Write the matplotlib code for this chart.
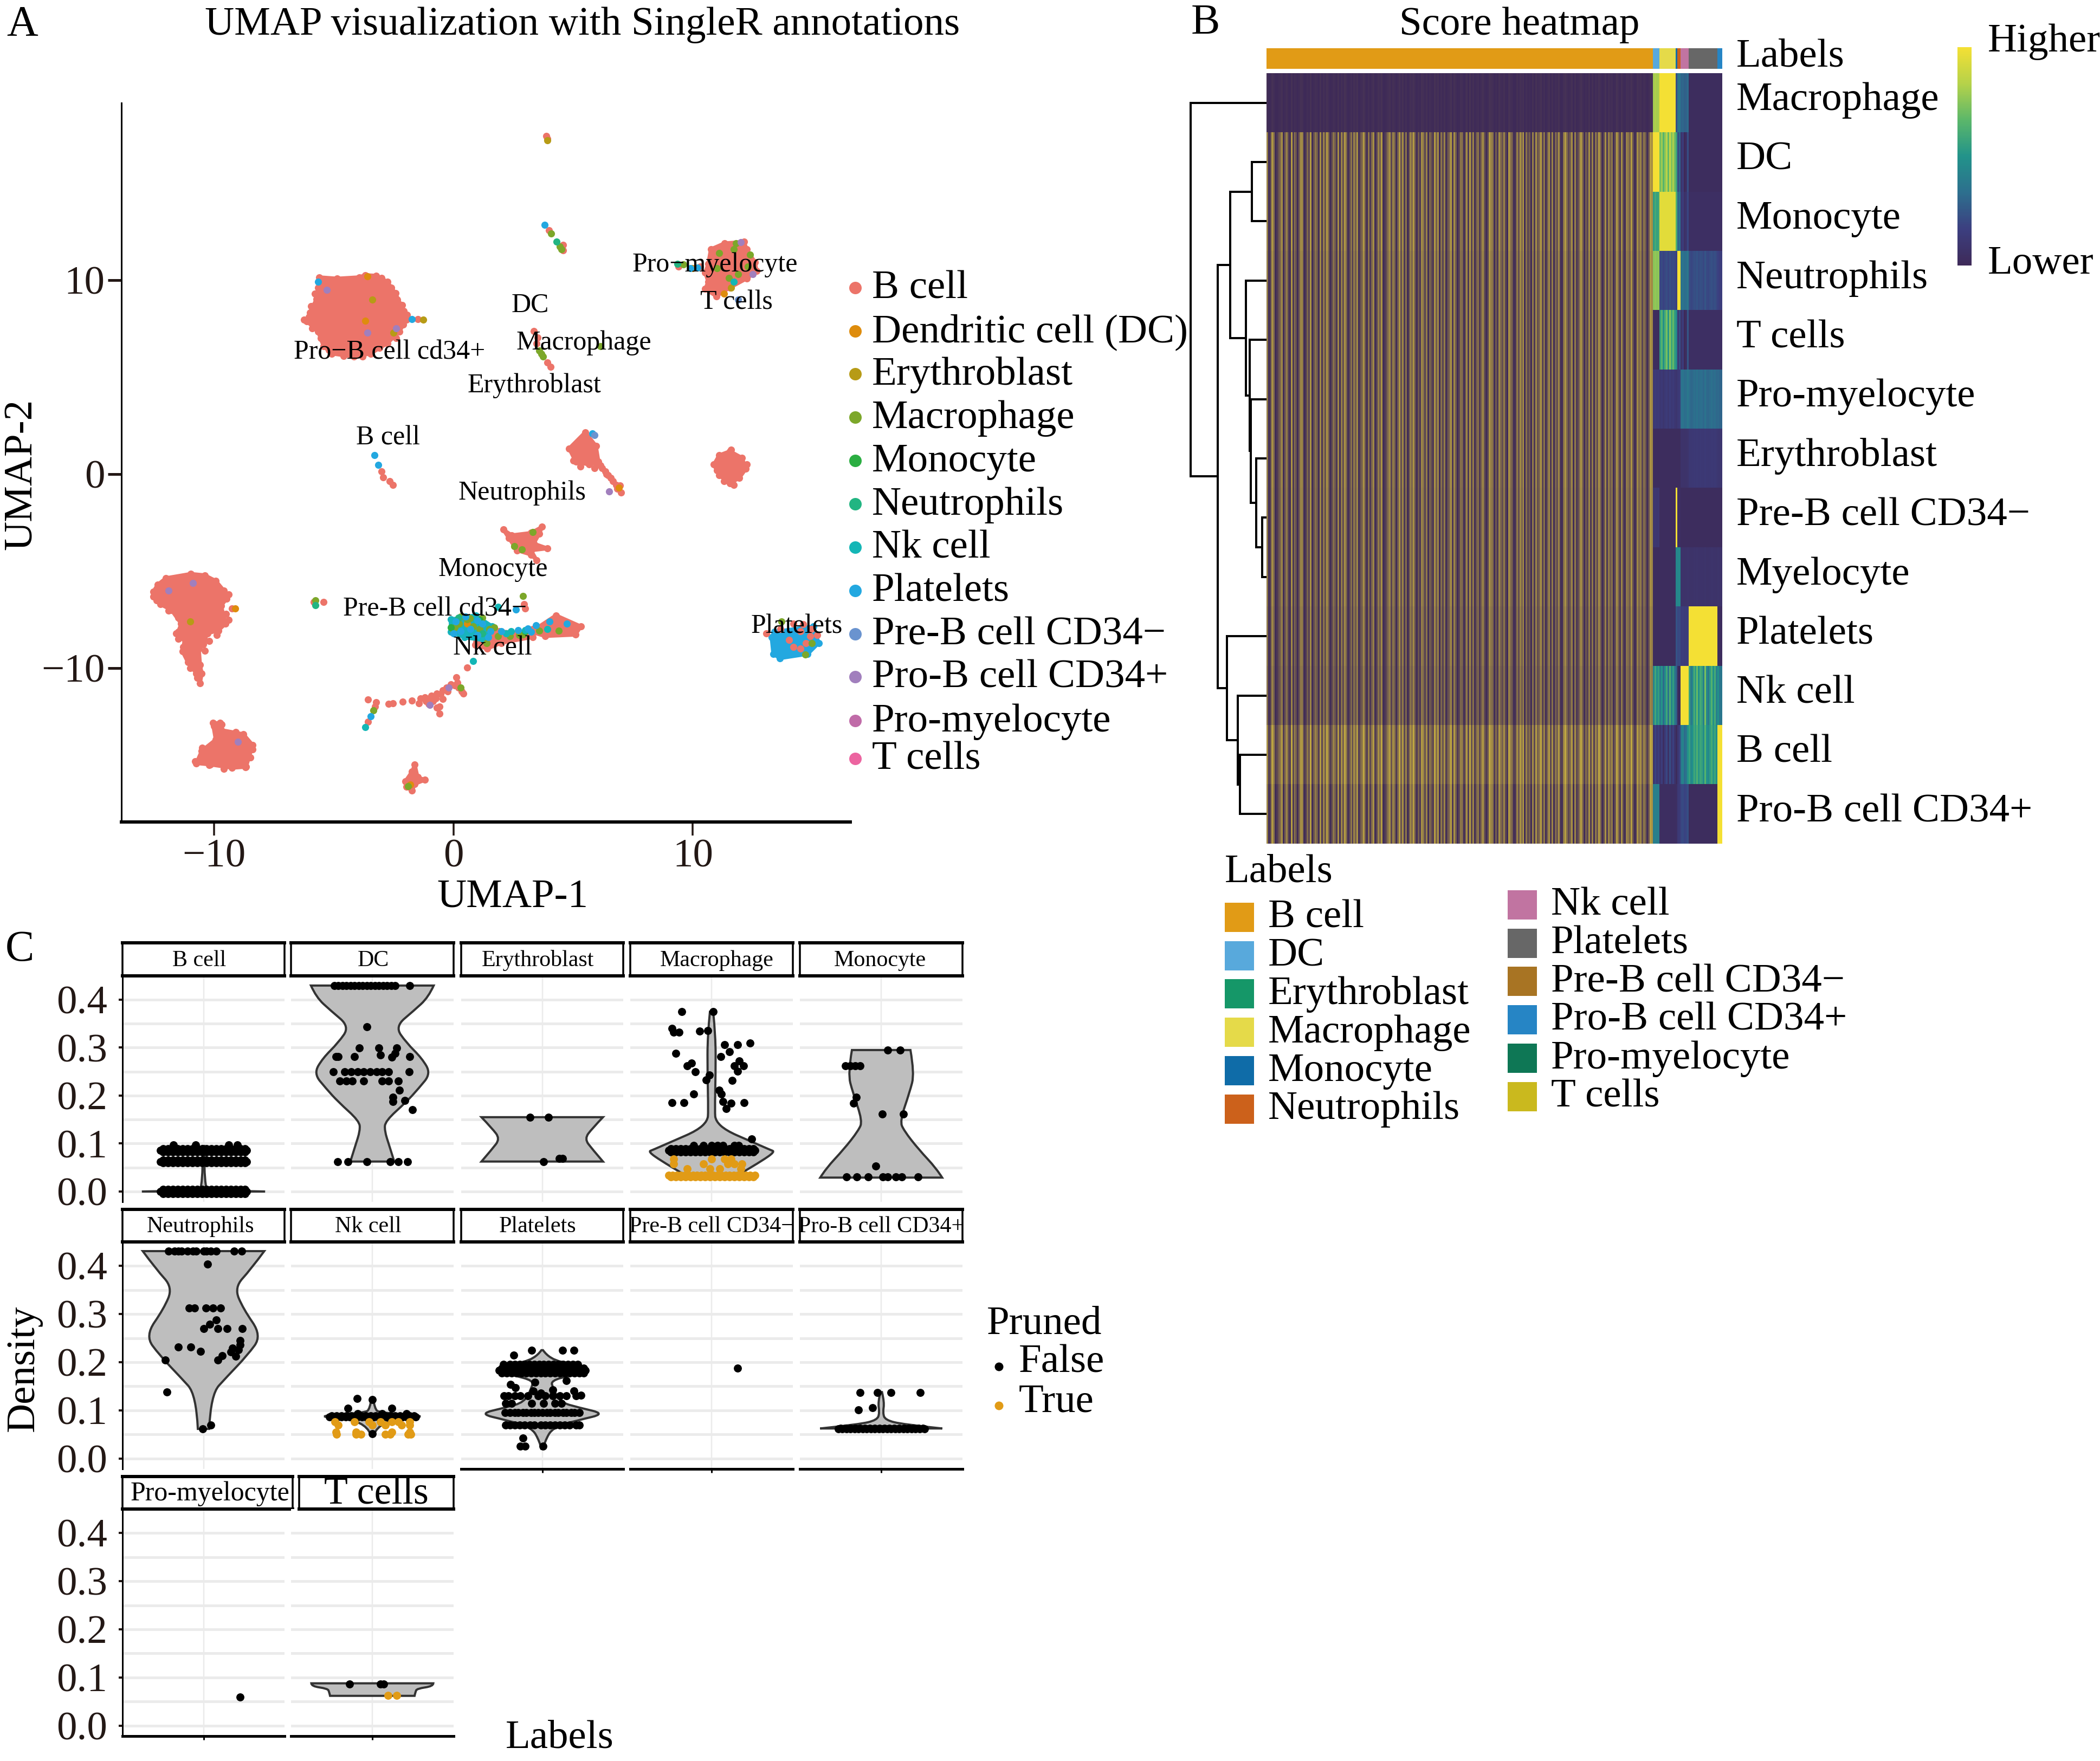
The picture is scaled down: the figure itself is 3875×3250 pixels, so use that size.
# -*- coding: utf-8 -*-
import numpy as np
import matplotlib
matplotlib.use("Agg")
import matplotlib.pyplot as plt
from matplotlib.colors import LinearSegmentedColormap, to_rgb, Normalize
from matplotlib.cm import ScalarMappable
from matplotlib.path import Path
from matplotlib.patches import PathPatch

plt.rcParams['font.family'] = ['Liberation Serif', 'DejaVu Serif']

W, H = 3875, 3250
DPI = 100
PT = 72.0 / DPI  # one pixel in points

# ---------- panel A data ----------
umap_labels = ['B cell', 'Dendritic cell (DC)', 'Erythroblast', 'Macrophage', 'Monocyte',
               'Neutrophils', 'Nk cell', 'Platelets', 'Pre-B cell CD34\u2212', 'Pro-B cell CD34+',
               'Pro-myelocyte', 'T cells']
umap_colors = ['#EC7469', '#DE8C0D', '#B79B16', '#7CA72A', '#2BAE42', '#22B582',
               '#14B6B6', '#23A8E0', '#6A93CF', '#A17FBD', '#C06BA8', '#EC64A0']

# outlines of the dense clusters (too many cells to read one by one)
hull_prob = [(-5.62, 10.15), (-4.86, 10.08), (-3.93, 10.15), (-3.70, 10.26), (-3.24, 10.23), (-2.77, 9.92),
             (-2.43, 9.32), (-2.08, 8.41), (-1.97, 7.95), (-2.27, 7.34), (-2.77, 6.74), (-3.47, 6.21),
             (-4.16, 6.05), (-5.09, 6.21), (-5.43, 6.59), (-5.66, 7.34), (-6.13, 7.88), (-6.01, 8.33),
             (-5.73, 9.01), (-5.66, 9.62)]
hull_tcell = [(10.64, 9.92), (10.52, 9.54), (10.98, 9.17), (11.56, 9.62), (12.25, 10.08), (12.67, 10.46),
              (12.60, 10.91), (12.25, 11.59), (12.14, 11.97), (11.33, 11.90), (10.75, 11.59), (10.64, 10.83),
              (10.52, 10.38)]
hull_mid = [(5.50, 2.15), (5.95, 1.46), (6.06, 0.63), (5.67, 0.49), (5.11, 0.63), (4.83, 1.32)]
hull_right = [(11.55, 1.18), (12.05, 0.84), (12.22, 0.28), (11.94, -0.20), (11.55, -0.48), (11.10, -0.06),
              (10.88, 0.49), (11.10, 0.97)]
hull_mono = [(2.08, -2.86), (2.43, -3.15), (3.24, -3.03), (3.70, -2.72), (3.58, -3.08), (3.35, -3.58),
             (3.93, -3.83), (3.24, -3.93), (3.47, -4.43), (3.24, -4.15), (2.66, -3.93), (2.54, -3.72),
             (2.31, -3.29)]
hull_left = [(-10.98, -5.14), (-10.40, -5.21), (-9.94, -5.50), (-9.60, -6.0), (-9.48, -6.42), (-9.71, -6.78),
             (-9.53, -7.71), (-9.83, -8.06), (-10.29, -8.21), (-10.45, -8.77), (-10.64, -8.99), (-10.59, -9.84),
             (-10.52, -10.27), (-10.59, -10.77), (-10.75, -10.27), (-11.10, -9.70), (-11.33, -9.13), (-11.21, -8.70),
             (-11.51, -8.13), (-11.38, -7.71), (-11.79, -7.0), (-12.25, -6.71), (-12.55, -6.07), (-12.37, -5.71),
             (-12.02, -5.36)]
hull_lowleft = [(-10.06, -12.83), (-9.76, -12.83), (-9.71, -13.19), (-8.79, -13.40), (-8.39, -13.97),
                (-8.67, -15.09), (-9.25, -15.14), (-10.17, -14.97), (-10.75, -14.90), (-10.52, -14.26),
                (-9.94, -13.69)]
hull_bottom = [(-1.62, -14.97), (-1.50, -15.62), (-1.20, -15.76), (-1.62, -15.97), (-1.73, -16.32),
               (-1.97, -16.12), (-2.01, -15.83), (-1.73, -15.33)]
hull_streak = [(3.24, -8.13), (4.28, -7.28), (5.32, -7.85), (5.09, -8.28), (3.82, -8.35)]
hull_link = [(0.9, -8.2), (1.9, -8.1), (2.9, -8.2), (3.3, -8.0), (3.3, -8.4), (2.0, -8.7), (1.4, -9.0), (0.9, -8.8)]
hull_core = [(-0.12, -7.49), (0.92, -7.28), (1.62, -7.85), (1.27, -8.56), (0.46, -8.42), (-0.12, -8.13)]
hull_plate = [(13.41, -8.13), (15.03, -7.85), (15.26, -8.70), (14.80, -9.27), (13.64, -9.49), (13.36, -9.27),
              (13.29, -8.42)]

# single cells, by label
dots_bcell = [(-1.50, 7.98), (3.88, 17.43), (3.93, 17.28), (3.98, 12.58), (4.58, 11.52), (4.58, 11.82),
              (3.35, 7.37), (3.47, 6.74), (3.51, 7.04), (3.93, 5.75), (4.05, 5.52), (-3.0, 0.13), (-2.94, -0.16),
              (-2.66, -0.37), (-2.54, -0.56), (6.06, 0.5), (6.34, 0.15), (6.56, -0.2), (6.79, -0.55), (7.0, -0.96),
              (6.2, 0.3), (6.45, -0.05), (-9.25, -6.92), (-5.85, -6.6), (-5.43, -6.6), (2.94, -6.71), (3.0, -6.92),
              (0.58, -9.96), (0.12, -10.48), (-0.12, -10.84), (0.35, -11.2), (0.2, -11.0), (-0.46, -11.13),
              (-0.3, -11.0), (-0.92, -11.41), (-0.7, -11.3), (-1.39, -11.55), (-1.2, -11.5), (-1.04, -11.84),
              (-0.85, -11.7), (-0.58, -11.98), (-0.58, -12.34), (-1.73, -11.67), (-2.13, -11.72), (-2.54, -11.81),
              (-2.71, -11.84), (-3.58, -11.62), (-3.24, -11.77), (-3.28, -11.98), (-3.58, -12.76), (13.06, -8.2),
              (14.5, -8.1), (14.95, -8.0), (14.03, -8.55), (14.73, -8.7), (14.5, -8.99), (15.2, -8.3), (14.2, -7.7),
              (14.6, -7.75), (14.2, -8.9), (14.9, -8.35), (13.65, -8.0), (9.4, 10.7), (10.3, 10.7),
              # lumps on the cluster edges
              (-5.5, 10.0), (-5.2, 10.0), (-4.5, 10.0), (-4.2, 9.9), (-3.0, 10.1), (-2.6, 9.6), (-2.35, 9.0),
              (-2.15, 8.7), (-1.95, 8.2), (-2.1, 7.7), (-2.4, 7.0), (-3.1, 6.5), (-3.8, 6.05), (-4.6, 6.1), (-5.2, 6.4),
              (-5.55, 7.0), (-5.9, 7.5), (-6.25, 7.95), (-5.95, 8.65), (-6.05, 8.1), (-5.8, 9.3), (-5.55, 9.4),
              (-12.55, -6.3), (-12.3, -5.9), (-12.4, -6.5), (-11.9, -7.05), (-11.5, -7.4), (-11.6, -8.2), (-11.5, -8.5),
              (-11.3, -8.9), (-9.4, -6.2), (-9.5, -7.2), (-9.4, -7.5), (-9.9, -8.3), (-10.2, -8.6), (-10.4, -9.1),
              (-11.0, -9.3), (-11.0, -10.0), (-10.7, -10.5), (-10.8, -14.8), (-10.5, -14.1), (-9.9, -13.5), (-10.0, -13.0),
              (-9.7, -12.9), (-9.5, -13.5), (-9.1, -13.3), (-8.4, -14.2), (-8.5, -14.6), (-8.7, -15.1), (-9.6, -15.2),
              (-10.2, -15.0), (5.0, 0.7), (5.3, 0.4), (5.9, 0.3), (6.15, 0.45), (6.4, 0.0), (6.65, -0.35), (6.85, -0.75),
              (6.95, -0.6), (11.0, 0.2), (11.6, 1.25), (12.25, 0.5), (11.7, -0.55), (11.3, -0.35), (-0.25, -11.2),
              (-0.55, -11.35), (-0.75, -11.55), (-0.95, -11.6), (-1.15, -11.7), (0.05, -10.9), (0.15, -10.75),
              (0.4, -11.3), (-0.45, -11.6), (-0.7, -12.05), (-1.45, -11.8)]
dots_dc = [(-3.7, 7.9), (-3.6, 10.2), (-9.13, -6.92), (6.9, -0.7), (10.0, 10.6), (11.3, 9.3), (0.58, -7.71),
           (-0.02, -8.0), (-1.8, -16.0)]
dots_ery = [(-1.27, 7.95), (-3.4, 9.0), (-11.0, -7.6), (3.93, 17.2), (11.6, 9.6), (-2.5, 7.3)]
dots_macro = [(4.09, 12.40), (4.44, 11.74), (4.51, 11.59), (3.58, 6.36), (3.74, 6.05), (3.66, 6.2), (6.13, 6.59),
              (9.6, 10.8), (11.1, 11.4), (11.7, 11.6), (12.3, 10.7), (11.5, 10.1), (11.9, 10.3), (11.0, 10.6),
              (2.89, -6.28), (-5.78, -6.5), (2.54, -3.72), (2.85, -3.88), (3.3, -3.0), (0.69, -7.42), (1.5, -7.99),
              (0.23, -7.71), (0.81, -7.85), (1.39, -8.7), (0.58, -7.49), (1.85, -8.35), (2.89, -8.28), (3.58, -8.06),
              (4.39, -8.06), (-3.35, -12.19), (0.3, -11.0), (13.7, -7.6), (14.97, -8.7), (14.7, -9.3), (-1.9, -16.1),
              (12.4, 11.3), (11.8, 11.9), (0.3, -7.35), (1.2, -7.4), (1.7, -7.9), (1.1, -8.0), (2.35, -8.35),
              (2.75, -8.3), (0.05, -7.9)]
dots_mono = [(-0.1, -7.9), (1.1, -7.5), (3.0, -8.1)]
dots_neut = [(4.30, 11.97), (9.36, 10.83), (-5.78, -6.75), (0.2, -7.4), (1.2, -8.2)]
dots_nk = [(1.85, -6.85), (2.2, -8.2), (3.93, -8.0), (-3.7, -13.05), (0.81, -9.63), (11.7, 9.9), (2.4, -8.1), (3.0, -8.05)]
dots_plate = [(-1.73, 7.98), (3.81, 12.84), (-3.14, 0.48), (-3.31, 0.97), (-5.65, 9.9), (2.61, -6.97), (3.24, -8.13),
              (4.74, -7.71), (-3.47, -12.48), (10.2, 10.65), (9.9, 10.6), (5.8, 2.1), (0.1, -7.6), (0.5, -7.35), (1.0, -7.55),
              (0.3, -8.1), (0.7, -8.0), (1.2, -7.7), (1.55, -8.1), (0.0, -8.2), (1.0, -8.3), (1.45, -8.4), (2.0, -8.1),
              (2.7, -8.05), (3.1, -7.95), (3.45, -7.8), (4.0, -7.6)]
dots_preb = [(11.9, 9.0), (5.9, 2.0)]
dots_prob = [(-10.9, -5.6), (-11.9, -6.0), (-9.0, -13.8), (6.5, -0.9), (-0.2, -11.0), (-1.0, -11.9), (12.0, 11.95),
             (12.5, 10.3), (-3.6, 7.3), (-2.4, 7.5), (-5.3, 9.5)]

annot_names = ['Pro\u2212myelocyte', 'T cells', 'DC', 'Macrophage', 'Pro\u2212B cell cd34+', 'Erythroblast', 'B cell',
               'Neutrophils', 'Monocyte', 'Pre-B cell cd34\u2212', 'Platelets', 'Nk cell']
annot_x = [10.93, 11.83, 3.21, 5.45, -2.67, 3.38, -2.73, 2.87, 1.64, -0.78, 14.35, 1.64]
annot_y = [10.78, 8.84, 8.70, 6.77, 6.28, 4.56, 1.87, -0.96, -4.90, -6.96, -7.86, -8.97]

# ---------- panel B data ----------
heat_rows = ['Macrophage', 'DC', 'Monocyte', 'Neutrophils', 'T cells', 'Pro-myelocyte', 'Erythroblast',
             'Pre-B cell CD34\u2212', 'Myelocyte', 'Platelets', 'Nk cell', 'B cell', 'Pro-B cell CD34+']
# fine stripes of the B cell block: share of yellow in each column, 0-9
left_stripes = ("702960135804720916304870152903640817395026418073950261748035"
                "930615802749013682750493816027593041862705319480627035918402"
                "650381927046158302976041853720964017385906240718359260481705"
                "381069524807136950428170639502817460395182076493018572640398")
left_floor = [0.00, 0.02, 0.02, 0.02, 0.02, 0.02, 0.02, 0.02, 0.02, 0.02, 0.02, 0.12, 0.02]
left_gain = [0.05, 0.66, 0.66, 0.62, 0.62, 0.62, 0.62, 0.60, 0.60, 0.56, 0.52, 0.64, 0.68]

# right part: DC, Macrophage, Monocyte, Neutrophils, Nk, Platelets, Pro-B cells
seg_cols = [4, 10, 1, 2, 5, 18, 3]
seg_values = [[0.80, 1.00, 0.25, 0.35, 0.30, 0.03, 0.03],
              [1.00, 0.75, 0.70, 0.20, 0.10, 0.03, 0.03],
              [0.55, 0.95, 0.70, 0.30, 0.12, 0.05, 0.05],
              [0.75, 0.20, 0.20, 1.00, 0.35, 0.22, 0.15],
              [0.03, 0.60, 0.60, 0.10, 0.10, 0.05, 0.05],
              [0.12, 0.12, 0.12, 0.12, 0.35, 0.33, 0.30],
              [0.03, 0.03, 0.03, 0.03, 0.08, 0.12, 0.10],
              [0.10, 0.03, 1.00, 0.05, 0.03, 0.03, 0.03],
              [0.03, 0.03, 0.45, 0.45, 0.08, 0.08, 0.08],
              [0.03, 0.03, 0.25, 0.20, 0.15, 1.00, 0.03],
              [0.45, 0.45, 0.45, 0.02, 1.00, 0.55, 0.35],
              [0.10, 0.12, 0.12, 0.10, 0.40, 0.55, 1.00],
              [0.40, 0.04, 0.05, 0.12, 0.20, 0.03, 1.00]]
row_amp = [0.05, 0.25, 0.15, 0.05, 0.30, 0.05, 0.01, 0.02, 0.01, 0.02, 0.35, 0.20, 0.05]
right_stripes = "4857361582947305846139502748365192047361855"

bar_labels = ['B cell', 'DC', 'Macrophage', 'Monocyte', 'Neutrophils', 'Nk cell', 'Platelets', 'Pro-B cell CD34+']
bar_cols = [240, 4, 10, 1, 2, 5, 18, 3]
heat_legend = ['B cell', 'DC', 'Erythroblast', 'Macrophage', 'Monocyte', 'Neutrophils', 'Nk cell', 'Platelets',
               'Pre-B cell CD34\u2212', 'Pro-B cell CD34+', 'Pro-myelocyte', 'T cells']
heat_colors = ['#E19B16', '#58A9DC', '#159768', '#E5DA49', '#0F6CA8', '#CC611B', '#C174A1', '#676767',
               '#A87423', '#2685C5', '#0E7755', '#CAB91E']
# leaves are heat_rows 0-12, new nodes count on from 13
dendro_merges = [(7, 8, 8), (6, 13, 19.5), (5, 14, 29), (4, 15, 31), (3, 16, 38.5), (1, 2, 27.5), (18, 17, 67),
                 (11, 12, 49.5), (10, 20, 53), (9, 21, 73), (19, 22, 90), (0, 23, 140)]
heat_palette = ['#3E2A58', '#3C3F80', '#2D6F8E', '#22938A', '#5BB76A', '#B5D24A', '#F4E034']

# ---------- panel C data ----------
# violins: density value and half width; points: (density, [offsets])
v_bcell_y = [0.0, 0.002, 0.004, 0.095]
v_bcell_w = [0.76, 0.10, 0.008, 0.008]
band_a = [-0.53, -0.48, -0.43, -0.38, -0.33, -0.28, -0.23, -0.18, -0.13, -0.08, -0.03, 0.02, 0.07, 0.12, 0.17, 0.22,
          0.27, 0.32, 0.37, 0.42, 0.47, 0.53]
band_b = [-0.5, -0.44, -0.38, -0.32, -0.26, -0.2, -0.14, -0.08, -0.02, 0.04, 0.1, 0.16, 0.22, 0.28, 0.34, 0.4, 0.46, 0.51]
p_bcell = [(0.0, band_a), (0.086, band_a), (0.0625, band_a),
           (0.004, band_b), (-0.004, band_b), (0.083, band_b), (0.089, band_b), (0.06, band_b), (0.066, band_b),
           (0.097, [-0.37, -0.1, 0.31, 0.42])]

v_dc_y = [0.4295, 0.405, 0.377, 0.344, 0.310, 0.278, 0.246, 0.215, 0.187, 0.147, 0.127, 0.095, 0.0625]
v_dc_w = [0.755, 0.69, 0.51, 0.28, 0.42, 0.61, 0.72, 0.57, 0.42, 0.16, 0.15, 0.21, 0.27]
p_dc = [(0.4295, [-0.47, -0.42, -0.37, -0.32, -0.27, -0.22, -0.17, -0.12, -0.07, -0.02, 0.03, 0.08, 0.13, 0.18, 0.23,
                  0.28, 0.46]),
        (0.344, [-0.07]), (0.299, [-0.16, 0.08, 0.30]), (0.288, [0.28]), (0.285, [0.10]), (0.28, [0.24]),
        (0.281, [-0.45, -0.42, -0.22, 0.46]),
        (0.25, [-0.48, -0.34, -0.26, -0.18, -0.11, -0.03, 0.05, 0.12, 0.20, 0.45]),
        (0.23, [-0.40, -0.32, -0.25, -0.11, 0.12, 0.20, 0.32]),
        (0.211, [0.33]), (0.197, [0.25]), (0.187, [0.25]), (0.19, [0.40]), (0.171, [0.49]),
        (0.0625, [-0.43, -0.30, -0.07, 0.22, 0.32, 0.43])]

v_ery_y = [0.155, 0.132, 0.110, 0.088, 0.0625]
v_ery_w = [0.75, 0.62, 0.52, 0.62, 0.75]
p_ery = [(0.155, [-0.15, 0.08]), (0.0625, [0.02]), (0.069, [0.21, 0.25])]

v_mac_y = [0.375, 0.325, 0.246, 0.167, 0.147, 0.127, 0.107, 0.087, 0.083, 0.064, 0.040, 0.031]
v_mac_w = [0.02, 0.05, 0.05, 0.04, 0.05, 0.18, 0.45, 0.72, 0.78, 0.62, 0.38, 0.30]
p_mac = [(0.375, [-0.37, 0.02]), (0.34, [-0.49]), (0.332, [-0.47, -0.40]), (0.334, [-0.15]), (0.336, [-0.05]),
         (0.306, [0.16, 0.32]), (0.31, [0.47]), (0.292, [0.22]), (0.288, [-0.44]), (0.281, [0.11]), (0.268, [-0.25]),
         (0.262, [-0.30, 0.28, 0.39]), (0.272, [0.34]), (0.243, [-0.03]), (0.251, [0.32]), (0.25, [-0.20]),
         (0.233, [-0.07]), (0.232, [0.25]), (0.211, [0.09]), (0.203, [0.12, -0.22]), (0.185, [-0.49, -0.34, 0.40]),
         (0.187, [0.14]), (0.184, [0.24]), (0.173, [0.18]), (0.11, [0.49]),
         (0.086, band_a), (0.083, band_b), (0.089, band_b),
         (0.096, [-0.22, -0.1, 0.0, 0.07, 0.14, 0.28, 0.33])]
o_mac = [(0.031, band_b), (0.034, band_a),
         (0.047, [-0.3, -0.02, 0.1, 0.36]), (0.058, [-0.47, -0.1, 0.2, 0.28, 0.37]), (0.068, [-0.47, 0.0, 0.16, 0.24])]

v_mono_y = [0.295, 0.246, 0.207, 0.147, 0.127, 0.088, 0.048, 0.029]
v_mono_w = [0.36, 0.41, 0.35, 0.23, 0.28, 0.46, 0.68, 0.75]
p_mono = [(0.295, [0.08, 0.23]), (0.262, [-0.44, -0.38, -0.32, -0.26]), (0.197, [-0.31]), (0.184, [-0.34]),
          (0.161, [0.01, 0.27]), (0.053, [-0.07]), (0.03, [-0.43, -0.30, -0.16, 0.02, 0.08, 0.18, 0.25, 0.45])]

v_neut_y = [0.4306, 0.392, 0.355, 0.311, 0.255, 0.214, 0.170, 0.133, 0.0616]
v_neut_w = [0.75, 0.58, 0.38, 0.49, 0.72, 0.54, 0.29, 0.09, 0.07]
p_neut = [(0.4306, [-0.43, -0.36, -0.31, -0.27, -0.20, -0.13, -0.09, 0.0, 0.04, 0.09, 0.16, 0.38, 0.47]),
          (0.404, [0.05]), (0.313, [-0.18, -0.11, 0.03, 0.12, 0.21]), (0.288, [0.16]), (0.279, [0.08]),
          (0.27, [0.0, 0.18, 0.29, 0.48]), (0.245, [0.45]), (0.236, [0.45]), (0.232, [-0.31, -0.16]), (0.223, [-0.04]),
          (0.229, [0.36]), (0.226, [0.43]), (0.221, [0.34]), (0.212, [0.40]), (0.214, [0.23]), (0.204, [0.18]),
          (0.205, [-0.47]), (0.138, [-0.45]), (0.07, [0.09]), (0.0616, [-0.01])]

v_nk_y = [0.125, 0.103, 0.095, 0.0876, 0.08, 0.05]
v_nk_w = [0.01, 0.03, 0.09, 0.75, 0.09, 0.02]
p_nk = [(0.125, [-0.19]), (0.122, [0.0]), (0.105, [-0.3, 0.24]), (0.052, [0.0]), (0.093, [-0.18, 0.12, 0.42]),
        (0.089, band_b), (0.086, band_a)]
o_nk = [(0.076, [-0.46, -0.22, -0.04, 0.1, 0.24, 0.46, 0.32]), (0.07, [-0.42, 0.0, 0.16, 0.36, 0.46]),
        (0.05, [-0.44, -0.2, -0.14, 0.16, 0.22, 0.44, 0.47]), (0.055, [-0.45, 0.24, 0.46, -0.2])]

v_plat_y = [0.225, 0.206, 0.195, 0.184, 0.173, 0.162, 0.147, 0.117, 0.106, 0.093, 0.080, 0.065, 0.035, 0.02]
v_plat_w = [0.01, 0.09, 0.40, 0.58, 0.36, 0.11, 0.13, 0.22, 0.45, 0.78, 0.45, 0.13, 0.03, 0.01]
p_plat = [(0.215, [-0.35]), (0.225, [-0.13, 0.25, 0.39]),
          (0.195, [-0.48, -0.4, -0.34, -0.28, -0.22, -0.16, -0.1, -0.04, 0.02, 0.08, 0.14, 0.2, 0.26, 0.32, 0.38, 0.44]),
          (0.183, band_a), (0.188, band_b), (0.178, band_b),
          (0.158, [-0.09]), (0.162, [0.30]), (0.154, [-0.39]), (0.147, [-0.33]), (0.143, [0.13]), (0.14, [-0.11, 0.39]),
          (0.136, [-0.02]), (0.132, [0.48]),
          (0.13, [-0.47, -0.42, -0.34, -0.27, -0.18, -0.05, 0.04, 0.13, 0.22, 0.3, 0.42]),
          (0.115, [-0.45, -0.38, -0.13, 0.02, 0.16, 0.24]),
          (0.095, [-0.46, -0.4, -0.34, -0.3, -0.24, -0.2, -0.14, -0.1, -0.05, 0.0, 0.06, 0.1, 0.16, 0.2, 0.26, 0.3, 0.36,
                   0.4, 0.46]),
          (0.07, [-0.45, -0.4, -0.34, -0.28, -0.22, -0.15, -0.1, -0.02, 0.04, 0.1, 0.16, 0.22, 0.28, 0.34, 0.42, 0.46]),
          (0.043, [-0.24]), (0.026, [-0.27, -0.21, 0.01])]

p_preb = [(0.188, [0.32])]

v_pro_y = [0.138, 0.117, 0.095, 0.08, 0.071, 0.0625]
v_pro_w = [0.01, 0.04, 0.02, 0.05, 0.27, 0.75]
p_pro = [(0.137, [-0.26, -0.05, 0.12, 0.48]), (0.101, [-0.28]), (0.106, [-0.11]), (0.0624, band_b), (0.062, band_a)]

p_promy = [(0.06, [0.45])]

v_t_y = [0.088, 0.082, 0.077, 0.07, 0.062]
v_t_w = [0.75, 0.75, 0.55, 0.53, 0.52]
p_t = [(0.086, [-0.28, 0.10]), (0.087, [0.14])]
o_t = [(0.0624, [0.19, 0.30])]

facet_names = ['B cell', 'DC', 'Erythroblast', 'Macrophage', 'Monocyte', 'Neutrophils', 'Nk cell', 'Platelets',
               'Pre-B cell CD34\u2212', 'Pro-B cell CD34+', 'Pro-myelocyte', 'T cells']
facet_violin = [(v_bcell_y, v_bcell_w), (v_dc_y, v_dc_w), (v_ery_y, v_ery_w), (v_mac_y, v_mac_w), (v_mono_y, v_mono_w),
                (v_neut_y, v_neut_w), (v_nk_y, v_nk_w), (v_plat_y, v_plat_w), None, (v_pro_y, v_pro_w), None,
                (v_t_y, v_t_w)]
facet_black = [p_bcell, p_dc, p_ery, p_mac, p_mono, p_neut, p_nk, p_plat, p_preb, p_pro, p_promy, p_t]
facet_orange = [[], [], [], o_mac, [], [], o_nk, [], [], [], [], o_t]
density_ticks = [0.0, 0.1, 0.2, 0.3, 0.4]
minor_ticks = [0.05, 0.15, 0.25, 0.35]

# ---------- layout ----------
col_x = [(226, 525), (537, 837), (851, 1150), (1163, 1463), (1476, 1776)]
row_y = [(1801, 2218), (2292, 2711), (2785, 3204)]
strip_y = [(1740, 1801), (2232, 2292), (2725, 2785)]
strip_shift = [-8, 2, -8, 10, -2, -6, -8, -8, 0, 0, 5, 0]
umap_legend_y = [531, 611, 690, 770, 850, 930, 1010, 1090, 1170, 1249, 1330, 1400]


def add_px(fig, x0, y0, x1, y1, **kw):
    return fig.add_axes([x0 / W, 1 - y1 / H, (x1 - x0) / W, (y1 - y0) / H], **kw)


def fs(px):
    return px * PT


def violin_path(vw, vy):
    # right side down, left side back, knots used as curve controls so the outline stays round
    pts = list(zip(vw, vy))
    verts, codes = [pts[0]], [Path.MOVETO]
    for i in range(1, len(pts) - 1):
        if i < len(pts) - 2:
            end = ((pts[i][0] + pts[i + 1][0]) / 2, (pts[i][1] + pts[i + 1][1]) / 2)
        else:
            end = pts[-1]
        verts += [pts[i], end]
        codes += [Path.CURVE3, Path.CURVE3]
    back = [(-x, y) for x, y in verts[::-1]]
    verts += back
    codes += [Path.LINETO] + codes[1:][::-1]
    verts.append(verts[0])
    codes.append(Path.CLOSEPOLY)
    return Path(verts, codes)


fig = plt.figure(figsize=(W / DPI, H / DPI), dpi=DPI, facecolor='white')

# ---------- panel A ----------
ax = add_px(fig, 224, 190, 1569, 1517)
ax.set_xlim(-13.88, 16.58)
ax.set_ylim(-17.93, 19.13)
for s in ['top', 'right']:
    ax.spines[s].set_visible(False)
ax.spines['left'].set_linewidth(3 * PT)
ax.spines['bottom'].set_linewidth(6 * PT)
ax.set_xticks([-10, 0, 10])
ax.set_yticks([-10, 0, 10])
ax.tick_params(axis='x', length=25 * PT, width=3.5 * PT, labelsize=fs(75), pad=4, colors='#231815')
ax.tick_params(axis='y', length=25 * PT, width=5 * PT, labelsize=fs(75), pad=4, colors='#231815')
red, plate_blue, teal = umap_colors[0], umap_colors[7], '#17B3BE'
for hull, col in [(hull_prob, red), (hull_tcell, red), (hull_mid, red), (hull_right, red), (hull_mono, red),
                  (hull_left, red), (hull_lowleft, red), (hull_bottom, red), (hull_streak, red), (hull_link, red),
                  (hull_core, teal), (hull_plate, plate_blue)]:
    hx, hy = zip(*hull)
    ax.fill(hx, hy, facecolor=col, edgecolor=col, linewidth=5, joinstyle='round', zorder=2)
    ax.scatter(hx, hy, s=90, color=col, linewidths=0, zorder=2)
for dots, idx in [(dots_bcell, 0), (dots_dc, 1), (dots_ery, 2), (dots_macro, 3), (dots_mono, 4), (dots_neut, 5),
                  (dots_nk, 6), (dots_plate, 7), (dots_preb, 8), (dots_prob, 9)]:
    dx, dy = zip(*dots)
    ax.scatter(dx, dy, s=90, color=umap_colors[idx], linewidths=0, zorder=3)
for name, tx, ty in zip(annot_names, annot_x, annot_y):
    ax.text(tx, ty, name, fontsize=fs(50), ha='center', va='center', zorder=5)

# ---------- panel B ----------
low = np.array(to_rgb('#3E2A58'))
high = np.array(to_rgb('#E9CF3A'))
cmap = LinearSegmentedColormap.from_list('score', heat_palette)
stripes = np.array([int(c) for c in left_stripes]) / 9.0
rstripes = (np.array([int(c) for c in right_stripes]) - 4.5) / 9.0
seg_index = np.repeat(np.arange(len(seg_cols)), seg_cols)
img = np.zeros((len(heat_rows), len(stripes) + len(seg_index), 3))
for i in range(len(heat_rows)):
    frac = left_floor[i] + left_gain[i] * stripes
    img[i, :len(stripes)] = low + np.outer(frac, high - low)
    right_vals = np.array(seg_values[i])[seg_index]
    # full yellow or near empty blocks stay flat
    flat = (right_vals >= 0.95) | (right_vals <= 0.05)
    vals = np.where(flat, right_vals, right_vals + row_amp[i] * rstripes)
    img[i, len(stripes):] = cmap(np.clip(vals, 0, 1))[:, :3]
ax_h = add_px(fig, 2337, 135, 3178, 1557)
ax_h.imshow(img, aspect='auto', interpolation='nearest', extent=(0, img.shape[1], len(heat_rows), 0))
ax_h.axis('off')

ax_b = add_px(fig, 2337, 89, 3178, 127)
left = 0
for name, n in zip(bar_labels, bar_cols):
    ax_b.barh(0, n, left=left, height=1, color=heat_colors[heat_legend.index(name)], linewidth=0)
    left += n
ax_b.set_xlim(0, left)
ax_b.set_ylim(-0.5, 0.5)
ax_b.axis('off')

ax_d = add_px(fig, 2190, 135, 2337, 1557)
ax_d.set_xlim(147, 0)
ax_d.set_ylim(len(heat_rows), 0)
ax_d.axis('off')
node_y = {i: i + 0.5 for i in range(len(heat_rows))}
node_h = {i: 0.0 for i in range(len(heat_rows))}
for k, (a, b, hh) in enumerate(dendro_merges):
    nid = len(heat_rows) + k
    ax_d.plot([node_h[a], hh, hh, node_h[b]], [node_y[a], node_y[a], node_y[b], node_y[b]],
              color='black', lw=4 * PT, solid_joinstyle='miter', solid_capstyle='butt', clip_on=False)
    node_y[nid] = (node_y[a] + node_y[b]) / 2
    node_h[nid] = hh

ax_c = add_px(fig, 3612, 87, 3638, 490)
cb = fig.colorbar(ScalarMappable(Normalize(0, 1), cmap), cax=ax_c)
cb.set_ticks([])
cb.outline.set_visible(False)

# ---------- panel C ----------
for n, name in enumerate(facet_names):
    row, col = n // 5, n % 5
    x0, x1 = col_x[col]
    y0, y1 = row_y[row]
    sx1 = x1
    if n == 10:
        sx1 = 540
    sx0 = x0
    if n == 11:
        sx0 = 552
    sy0, sy1 = strip_y[row]
    axp = add_px(fig, x0, y0, x1, y1)
    axp.set_xlim(-1, 1)
    axp.set_ylim(-0.0215, 0.4497)
    for s in ['top', 'right', 'left', 'bottom']:
        axp.spines[s].set_visible(False)
    axp.set_xticks([0])
    axp.set_yticks(density_ticks)
    axp.set_yticks(minor_ticks, minor=True)
    axp.tick_params(axis='y', which='minor', length=0)
    axp.set_axisbelow(True)
    axp.grid(True, axis='y', which='both', color='#EBEBEB', lw=5 * PT)
    axp.grid(True, axis='x', color='#EBEBEB', lw=2.5 * PT)
    axp.tick_params(axis='x', labelbottom=False, length=0)
    if col == 0:
        axp.spines['left'].set_visible(True)
        axp.spines['left'].set_linewidth(3 * PT)
        axp.tick_params(axis='y', labelsize=fs(75), length=7 * PT, width=4 * PT, pad=15, colors='#231815')
        axp.set_yticklabels(['%.1f' % t_ for t_ in density_ticks])
    else:
        axp.tick_params(axis='y', labelleft=False, length=0)
    if n >= 7:
        axp.spines['bottom'].set_visible(True)
        axp.spines['bottom'].set_linewidth(5 * PT)
        axp.tick_params(axis='x', length=7 * PT, width=3 * PT)

    if facet_violin[n] is not None:
        vy, vw = facet_violin[n]
        axp.add_patch(PathPatch(violin_path(vw, vy), facecolor='#BEBEBE', edgecolor='#333333',
                                linewidth=4 * PT, zorder=3))
    for rows_, col_ in [(facet_black[n], 'black'), (facet_orange[n], '#E19B16')]:
        for dens, offs in rows_:
            axp.scatter(offs, [dens] * len(offs), s=115, color=col_, linewidths=0, zorder=4, clip_on=False)

    axs = add_px(fig, sx0, sy0, sx1, sy1)
    axs.set_xticks([])
    axs.set_yticks([])
    for s in ['left', 'right']:
        axs.spines[s].set_linewidth(3.5 * PT)
    for s in ['top', 'bottom']:
        axs.spines[s].set_linewidth(6 * PT)
    size = {'Pro-myelocyte': 50, 'T cells': 72}.get(name, 42)
    axs.text(0.5 + strip_shift[n] / (sx1 - sx0), 0.47, name, transform=axs.transAxes, fontsize=fs(size),
             ha='center', va='center', clip_on=False)

# ---------- free text and keys, in figure pixels ----------
ov = fig.add_axes([0, 0, 1, 1], zorder=10)
ov.set_xlim(0, W)
ov.set_ylim(H, 0)
ov.axis('off')
ov.patch.set_alpha(0)


def t(x, y, s, size=75, ha='left', **kw):
    ov.text(x, y + 5, s, fontsize=fs(size), ha=ha, va='center', **kw)


t(12, 41, 'A', size=80)
t(2198, 38, 'B', size=80)
t(10, 1748, 'C', size=80)
t(1075, 41, 'UMAP visualization with SingleR annotations', ha='center')
t(2804, 41, 'Score heatmap', ha='center')
t(946, 1651, 'UMAP-1', ha='center')
t(40, 870, 'UMAP-2', ha='center', rotation=90)
t(44, 2520, 'Density', ha='center', rotation=90)
t(1033, 3203, 'Labels', ha='center')

for i, name in enumerate(umap_labels):
    ov.scatter([1578], [umap_legend_y[i]], s=(23 * PT) ** 2, color=umap_colors[i], linewidths=0)
    t(1609, umap_legend_y[i] - 3, name)

t(3204, 100, 'Labels')
for i, name in enumerate(heat_rows):
    t(3204, 135 + (i + 0.5) * 109.4 - 9, name)
t(3668, 72, 'Higher')
t(3668, 482, 'Lower')

t(2260, 1605, 'Labels')
for i, name in enumerate(heat_legend):
    if i < 6:
        xs, ys = 2260, 1666 + i * 70.7
    else:
        xs, ys = 2782, 1643 + (i - 6) * 70.7
    ov.fill([xs, xs + 54, xs + 54, xs], [ys, ys, ys + 54, ys + 54], color=heat_colors[i], lw=0)
    t(xs + 80, ys + 23, name)

t(1821, 2439, 'Pruned')
ov.scatter([1843], [2522], s=(16 * PT) ** 2, color='black', linewidths=0)
ov.scatter([1843], [2594], s=(16 * PT) ** 2, color='#E19B16', linewidths=0)
t(1880, 2510, 'False')
t(1880, 2583, 'True')
ov.set_xlim(0, W)
ov.set_ylim(H, 0)

fig.savefig('out.png', dpi=DPI)
